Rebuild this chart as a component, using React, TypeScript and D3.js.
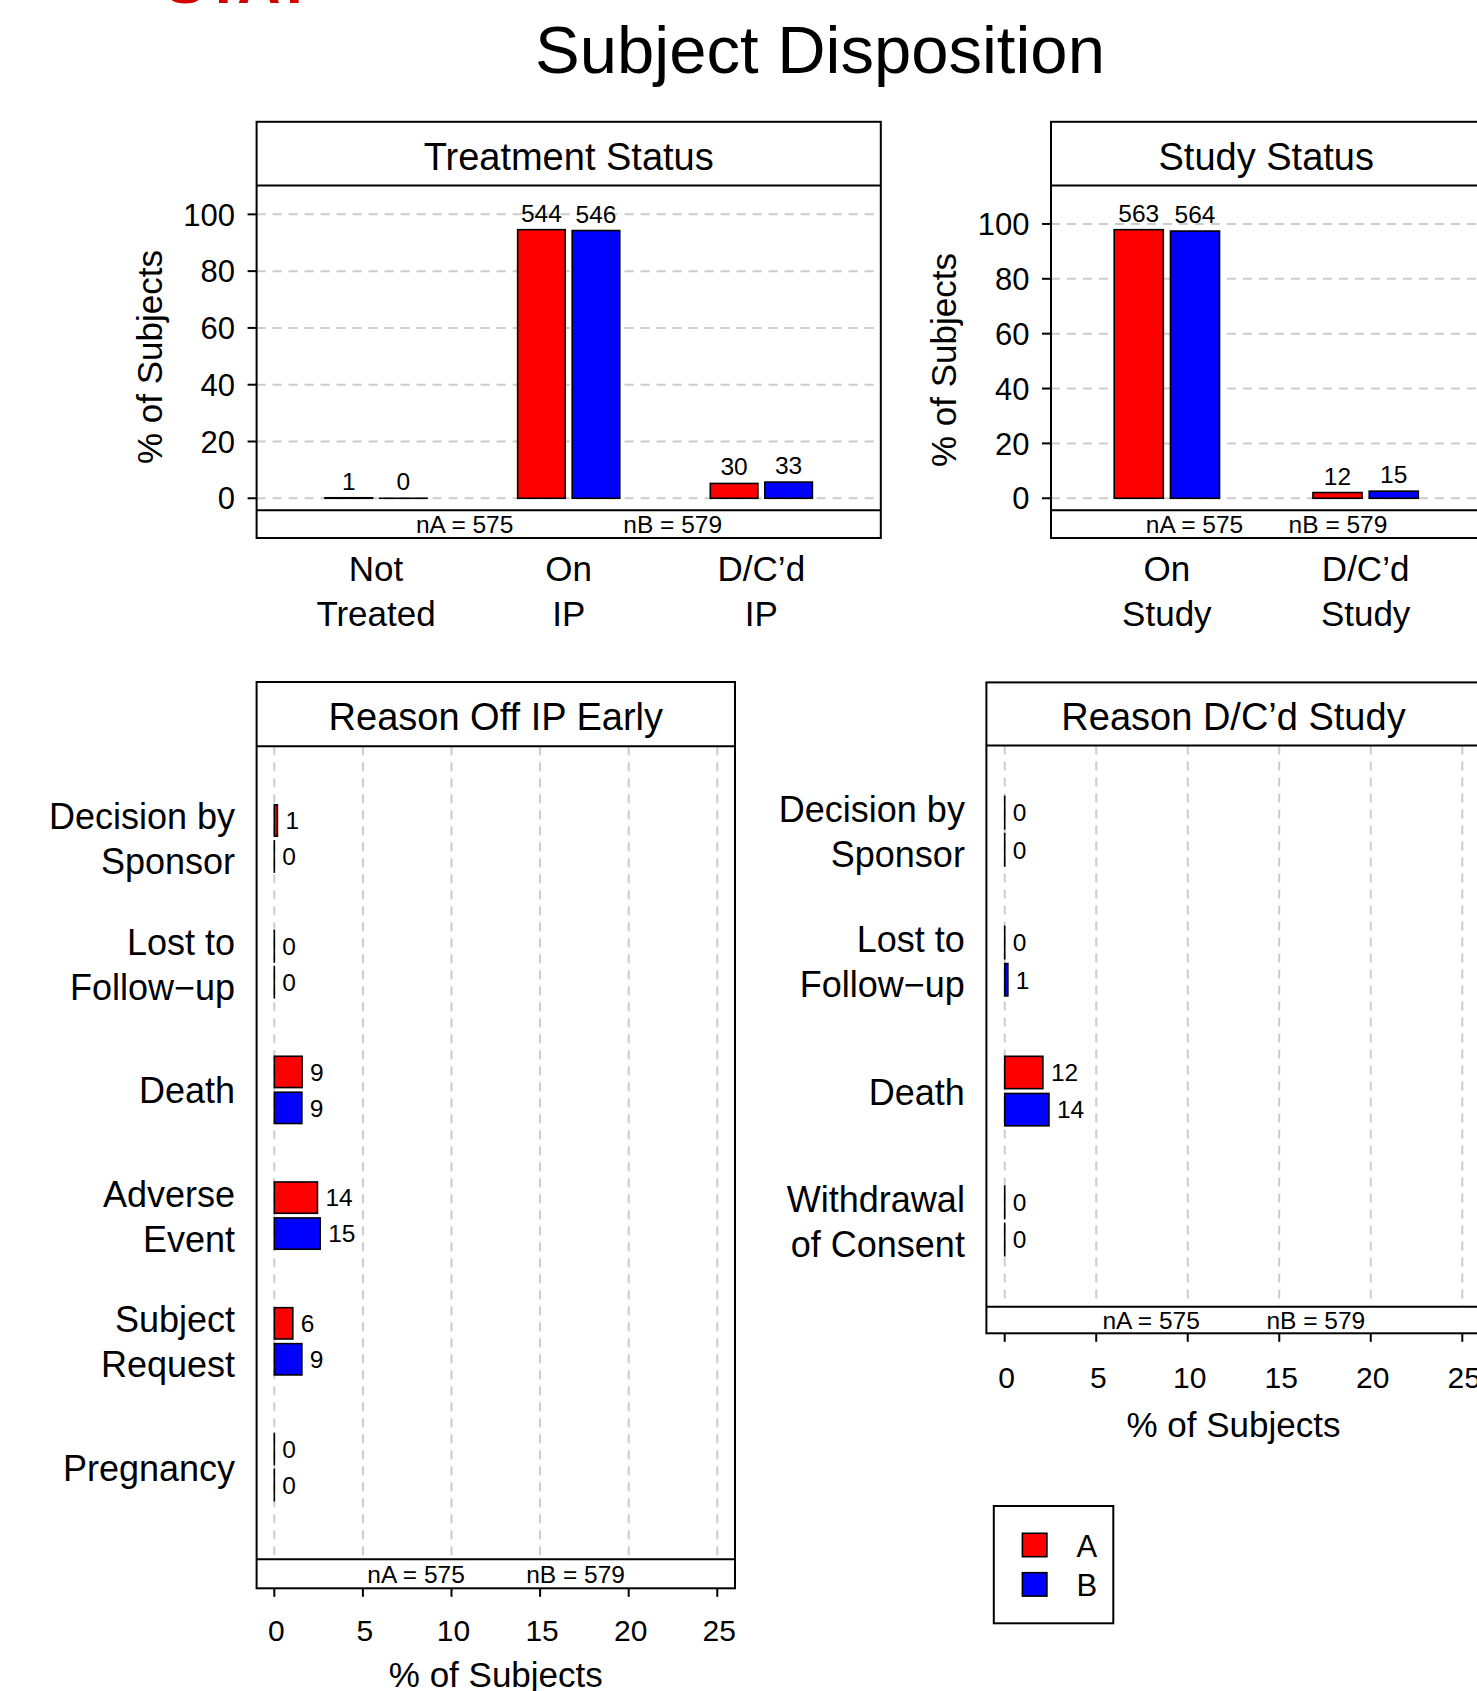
import * as d3 from 'd3';

const FONT = "'Liberation Sans', Arial, Helvetica, sans-serif";
const RED = '#ff0000';
const BLUE = '#0000ff';
const GRID = '#cccccc';

// ---- data ----
const groups = ['A', 'B'];
const groupColors = [RED, BLUE];
const nA = 575;
const nB = 579;

const treatCats = [['Not', 'Treated'], ['On', 'IP'], ['D/C\u2019d', 'IP']];
const treatA = [1, 544, 30];
const treatB = [0, 546, 33];

const studyCats = [['On', 'Study'], ['D/C\u2019d', 'Study']];
const studyA = [563, 12];
const studyB = [564, 15];

const offIpCats = [
  ['Decision by', 'Sponsor'],
  ['Lost to', 'Follow\u2212up'],
  ['Death'],
  ['Adverse', 'Event'],
  ['Subject', 'Request'],
  ['Pregnancy'],
];
const offIpA = [1, 0, 9, 14, 6, 0];
const offIpB = [0, 0, 9, 15, 9, 0];

const dcStudyCats = [
  ['Decision by', 'Sponsor'],
  ['Lost to', 'Follow\u2212up'],
  ['Death'],
  ['Withdrawal', 'of Consent'],
];
const dcStudyA = [0, 0, 12, 0];
const dcStudyB = [0, 1, 14, 0];

const pctTicks = [0, 20, 40, 60, 80, 100];
const xPctTicks = [0, 5, 10, 15, 20, 25];

type Box = { left: number; right: number; top: number; strip: number; plot: number; bottom: number };

function Frame({ box, title }: { box: Box; title: string }) {
  const mid = (box.left + box.right) / 2;
  const w = box.right - box.left;
  return (
    <g>
      <rect x={box.left} y={box.top} width={w} height={box.bottom - box.top} fill="none" stroke="#000" strokeWidth={2} />
      <line x1={box.left} x2={box.right} y1={box.strip} y2={box.strip} stroke="#000" strokeWidth={2} />
      <line x1={box.left} x2={box.right} y1={box.plot} y2={box.plot} stroke="#000" strokeWidth={2} />
      <text x={mid} y={(box.top + box.strip) / 2 + 16} textAnchor="middle" fontSize={38}>
        {title}
      </text>
      <text x={box.left + w / 3} y={(box.plot + box.bottom) / 2 + 9} textAnchor="middle" fontSize={24.5}>
        {`nA = ${nA}`}
      </text>
      <text x={box.left + (2 * w) / 3} y={(box.plot + box.bottom) / 2 + 9} textAnchor="middle" fontSize={24.5}>
        {`nB = ${nB}`}
      </text>
    </g>
  );
}

function VBarPanel(props: {
  title: string;
  cats: string[][];
  countsA: number[];
  countsB: number[];
  box: Box;
  padOuter: number;
  yLabelX: number;
  yLabelY: number;
}) {
  const { title, cats, countsA, countsB, box, padOuter, yLabelX, yLabelY } = props;
  const pA = countsA.map((v) => (v / nA) * 100);
  const pB = countsB.map((v) => (v / nB) * 100);
  const hi = (d3.max([...pA, ...pB]) ?? 100) * 1.12;
  const y = d3.scaleLinear().domain([-0.04 * hi, 1.04 * hi]).range([box.plot, box.strip]);
  const keys = cats.map((c) => c.join(' '));
  const x = d3.scaleBand().domain(keys).range([box.left, box.right]).paddingInner(0).paddingOuter(padOuter);
  const bw = x.step() * 0.247;
  const gap = x.step() * 0.036;

  return (
    <g>
      {pctTicks.map((t) => (
        <line key={t} x1={box.left} x2={box.right} y1={y(t)} y2={y(t)} stroke={GRID} strokeWidth={2} strokeDasharray="9,7" />
      ))}
      {keys.map((k, i) => {
        const cx = x(k)! + x.bandwidth() / 2;
        const inner = d3
          .scaleBand()
          .domain(groups)
          .range([cx - bw - gap / 2, cx + bw + gap / 2])
          .paddingInner(gap / (bw + gap));
        const vals = [pA[i], pB[i]];
        const counts = [countsA[i], countsB[i]];
        return (
          <g key={k}>
            {groups.map((g, j) => {
              const top = y(vals[j]);
              return (
                <g key={g}>
                  <rect
                    x={inner(g)}
                    y={top}
                    width={inner.bandwidth()}
                    height={Math.max(y(0) - top, 0.01)}
                    fill={groupColors[j]}
                    stroke="#000"
                    strokeWidth={1.6}
                  />
                  <text x={inner(g)! + inner.bandwidth() / 2} y={top - 8} textAnchor="middle" fontSize={24.5}>
                    {counts[j]}
                  </text>
                </g>
              );
            })}
            {cats[i].map((line, li) => (
              <text key={li} x={cx} y={box.bottom + 43 + li * 45} textAnchor="middle" fontSize={35}>
                {line}
              </text>
            ))}
          </g>
        );
      })}
      <Frame box={box} title={title} />
      {pctTicks.map((t) => (
        <g key={t}>
          <line x1={box.left - 9} x2={box.left} y1={y(t)} y2={y(t)} stroke="#000" strokeWidth={2} />
          <text x={box.left - 21.5} y={y(t)} dy="0.36em" textAnchor="end" fontSize={31}>
            {t}
          </text>
        </g>
      ))}
      <text transform={`translate(${yLabelX},${yLabelY}) rotate(-90)`} textAnchor="middle" fontSize={35}>
        % of Subjects
      </text>
    </g>
  );
}

function HBarPanel(props: {
  title: string;
  cats: string[][];
  countsA: number[];
  countsB: number[];
  box: Box;
  padOuter: number;
  tickDy: number;
  labelDy: number;
}) {
  const { title, cats, countsA, countsB, box, padOuter, tickDy, labelDy } = props;
  const pA = countsA.map((v) => (v / nA) * 100);
  const pB = countsB.map((v) => (v / nB) * 100);
  const x = d3.scaleLinear().domain([-1, 26]).range([box.left, box.right]);
  const keys = cats.map((c) => c.join(' '));
  const yb = d3.scaleBand().domain(keys).range([box.strip, box.plot]).paddingInner(0).paddingOuter(padOuter);
  const bh = yb.step() * 0.249;
  const gap = yb.step() * 0.037;
  const mid = (box.left + box.right) / 2;

  return (
    <g>
      {xPctTicks.map((t) => (
        <line key={t} x1={x(t)} x2={x(t)} y1={box.strip} y2={box.plot} stroke={GRID} strokeWidth={2} strokeDasharray="9,7" />
      ))}
      {keys.map((k, i) => {
        const cy = yb(k)! + yb.bandwidth() / 2;
        const inner = d3
          .scaleBand()
          .domain(groups)
          .range([cy - bh - gap / 2, cy + bh + gap / 2])
          .paddingInner(gap / (bh + gap));
        const vals = [pA[i], pB[i]];
        const counts = [countsA[i], countsB[i]];
        const n = cats[i].length;
        return (
          <g key={k}>
            {groups.map((g, j) => (
              <g key={g}>
                <rect
                  x={x(0)}
                  y={inner(g)}
                  width={Math.max(x(vals[j]) - x(0), 0.01)}
                  height={inner.bandwidth()}
                  fill={groupColors[j]}
                  stroke="#000"
                  strokeWidth={1.6}
                />
                <text x={x(vals[j]) + 8} y={inner(g)! + inner.bandwidth() / 2} dy="0.36em" fontSize={24.5}>
                  {counts[j]}
                </text>
              </g>
            ))}
            {cats[i].map((line, li) => (
              <text
                key={li}
                x={box.left - 21.5}
                y={cy + 13.5 + (li - (n - 1) / 2) * 45}
                textAnchor="end"
                fontSize={36}
              >
                {line}
              </text>
            ))}
          </g>
        );
      })}
      <Frame box={box} title={title} />
      {xPctTicks.map((t) => (
        <g key={t}>
          <line x1={x(t)} x2={x(t)} y1={box.bottom} y2={box.bottom + 8.5} stroke="#000" strokeWidth={2} />
          <text x={x(t) + 2} y={box.bottom + tickDy} textAnchor="middle" fontSize={30}>
            {t}
          </text>
        </g>
      ))}
      <text x={mid} y={box.bottom + labelDy} textAnchor="middle" fontSize={35}>
        % of Subjects
      </text>
    </g>
  );
}

export default function App() {
  return (
    <svg
      width={1477}
      height={1691}
      style={{ position: 'absolute', left: 0, top: 0, display: 'block', background: '#fff' }}
      fontFamily={FONT}
    >
      <rect x={0} y={0} width={1477} height={1691} fill="#fff" />
      <text x={165} y={3} fontSize={60} fontWeight="bold" fill="#d40000">
        STAT
      </text>
      <text x={820} y={73} textAnchor="middle" fontSize={67}>
        Subject Disposition
      </text>

      <VBarPanel
        title="Treatment Status"
        cats={treatCats}
        countsA={treatA}
        countsB={treatB}
        box={{ left: 256.6, right: 880.8, top: 121.8, strip: 185.4, plot: 510.3, bottom: 538 }}
        padOuter={0.12}
        yLabelX={162}
        yLabelY={357}
      />
      <VBarPanel
        title="Study Status"
        cats={studyCats}
        countsA={studyA}
        countsB={studyB}
        box={{ left: 1051, right: 1481.5, top: 121.8, strip: 185.4, plot: 510.3, bottom: 538 }}
        padOuter={0.083}
        yLabelX={956}
        yLabelY={360}
      />
      <HBarPanel
        title="Reason Off IP Early"
        cats={offIpCats}
        countsA={offIpA}
        countsB={offIpB}
        box={{ left: 256.6, right: 735, top: 682, strip: 746.2, plot: 1559.3, bottom: 1588.3 }}
        padOuter={0.234}
        tickDy={52.7}
        labelDy={98.4}
      />
      <HBarPanel
        title={'Reason D/C\u2019d Study'}
        cats={dcStudyCats}
        countsA={dcStudyA}
        countsB={dcStudyB}
        box={{ left: 986.4, right: 1480.6, top: 682.4, strip: 745.5, plot: 1306.7, bottom: 1333.3 }}
        padOuter={0.16}
        tickDy={55}
        labelDy={103.4}
      />

      <g>
        <rect x={993.8} y={1506} width={119.5} height={117.3} fill="none" stroke="#000" strokeWidth={2} />
        {groups.map((g, i) => (
          <g key={g}>
            <rect x={1022.4} y={1533.3 + i * 39.4} width={24.5} height={23.4} fill={groupColors[i]} stroke="#000" strokeWidth={1.6} />
            <text x={1076.5} y={1557.3 + i * 38.7} fontSize={31}>
              {g}
            </text>
          </g>
        ))}
      </g>
    </svg>
  );
}
